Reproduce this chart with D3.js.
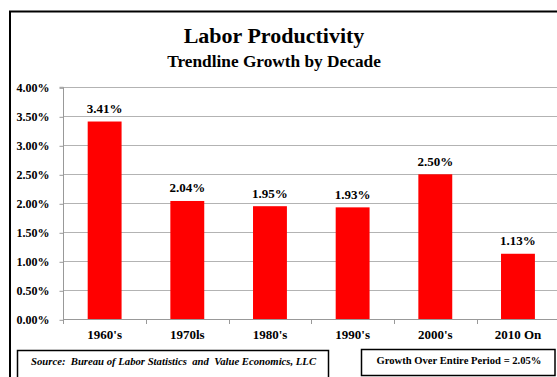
<!DOCTYPE html>
<html><head><meta charset="utf-8">
<script src="https://cdn.jsdelivr.net/npm/d3@7"></script>
<style>body{margin:0;background:#fff}svg{display:block}text{font-family:"Liberation Serif","Times New Roman",serif;font-weight:bold;fill:#000}</style>
</head><body><div id="chart"></div>
<script>
const categories = ["1960's","1970ls","1980's","1990's","2000's","2010 On"];
const values = [3.41, 2.04, 1.95, 1.93, 2.50, 1.13];
const valueLabels = ["3.41%","2.04%","1.95%","1.93%","2.50%","1.13%"];
const yTicks = [0, 0.5, 1, 1.5, 2, 2.5, 3, 3.5, 4];
const title = "Labor Productivity";
const subtitle = "Trendline Growth by Decade";
const sourceText = "Source:  Bureau of Labor Statistics  and  Value Economics, LLC";
const noteText = "Growth Over Entire Period = 2.05%";

const W = 557, H = 377;
const svg = d3.select("#chart").append("svg").attr("width", W).attr("height", H);

// outer frame
svg.append("rect").attr("x", 10).attr("y", 11.5).attr("width", W + 10).attr("height", H + 10)
  .attr("fill", "none").attr("stroke", "#000").attr("stroke-width", 2);

svg.append("text").attr("x", 274).attr("y", 43).attr("text-anchor", "middle")
  .style("font-size", "22px").text(title);
svg.append("text").attr("x", 274).attr("y", 67).attr("text-anchor", "middle")
  .style("font-size", "17.3px").text(subtitle);

const x0 = 63.3, x1 = 559.3, yTop = 87.3, yBot = 319.3;
const x = d3.scaleBand().domain(categories).range([x0, x1]).paddingInner(0.59).paddingOuter(0.295);
const y = d3.scaleLinear().domain([0, 4]).range([yBot, yTop]);

// gridlines
svg.append("g").selectAll("line").data(yTicks.filter(d => d > 0)).join("line")
  .attr("x1", x0).attr("x2", W).attr("y1", d => Math.round(y(d)) + 0.5).attr("y2", d => Math.round(y(d)) + 0.5)
  .attr("stroke", "#b3b3b3").attr("stroke-width", 1);

// y axis
const yAxis = d3.axisLeft(y).tickValues(yTicks).tickSize(4).tickPadding(10)
  .tickFormat(d => d.toFixed(2) + "%");
const gy = svg.append("g").attr("transform", `translate(${Math.round(x0) + 0.5},0)`).call(yAxis);
gy.select(".domain").attr("stroke", "#999").attr("d", `M-4,${yTop}H0V${yBot}`);
gy.selectAll(".tick line").attr("stroke", "#999");
gy.selectAll(".tick line").attr("transform", "translate(0,0.5)");
gy.selectAll("text").style("font-size", "12px").attr("dy", "0.35em").attr("font-family", null);

// bars
svg.append("g").selectAll("rect").data(values).join("rect")
  .attr("x", (d, i) => x(categories[i])).attr("width", x.bandwidth())
  .attr("y", d => y(d)).attr("height", d => yBot - y(d)).attr("fill", "#ff0000");

// x axis
const bounds = d3.range(categories.length + 1).map(i => x0 + i * x.step());
const gx = svg.append("g");
gx.append("line").attr("x1", x0).attr("x2", W).attr("y1", Math.round(yBot) + 0.5).attr("y2", Math.round(yBot) + 0.5)
  .attr("stroke", "#999");
gx.selectAll("line.tk").data(bounds).join("line").attr("class", "tk")
  .attr("x1", d => Math.round(d) + 0.5).attr("x2", d => Math.round(d) + 0.5)
  .attr("y1", Math.round(yBot)).attr("y2", Math.round(yBot) + 5).attr("stroke", "#999");
gx.selectAll("text").data(categories).join("text")
  .attr("x", d => x(d) + x.bandwidth() / 2).attr("y", 339).attr("text-anchor", "middle")
  .style("font-size", "13px").text(d => d);

// value labels
svg.append("g").selectAll("text").data(values).join("text")
  .attr("x", (d, i) => x(categories[i]) + x.bandwidth() / 2).attr("y", d => y(d) - 8.5)
  .attr("text-anchor", "middle").style("font-size", "13px").text((d, i) => valueLabels[i]);

// source box
svg.append("rect").attr("x", 17.5).attr("y", 350.5).attr("width", 311).attr("height", 40)
  .attr("fill", "none").attr("stroke", "#000").attr("stroke-width", 1.5);
svg.append("text").attr("x", 31).attr("y", 365).style("font-size", "10.7px").style("font-style", "italic")
  .attr("xml:space", "preserve").text(sourceText);

// note box
svg.append("rect").attr("x", 361.5).attr("y", 349.5).attr("width", 193.5).attr("height", 26)
  .attr("fill", "none").attr("stroke", "#000").attr("stroke-width", 1.5);
svg.append("text").attr("x", 459).attr("y", 364).attr("text-anchor", "middle")
  .style("font-size", "10.6px").text(noteText);
</script></body></html>
